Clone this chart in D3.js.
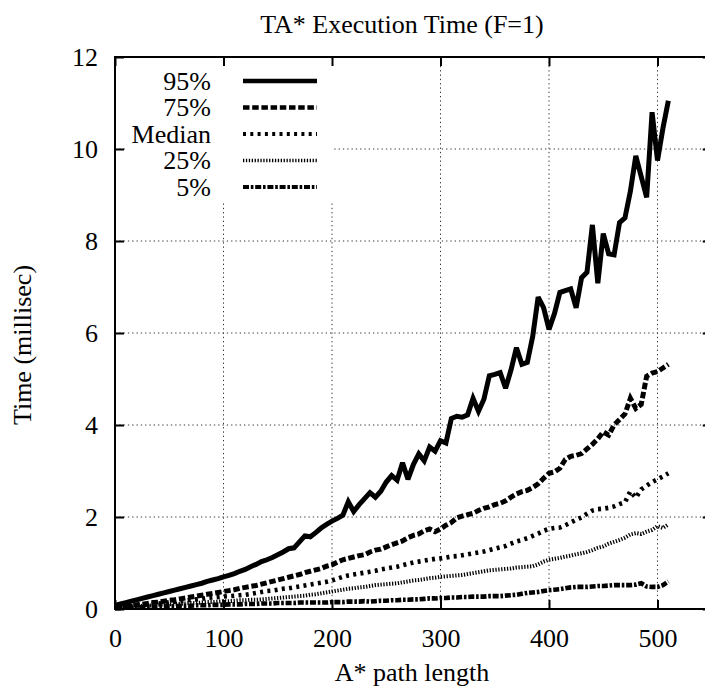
<!DOCTYPE html>
<html><head><meta charset="utf-8">
<script src="https://cdn.jsdelivr.net/npm/d3@7"></script>
<style>body{margin:0;background:#fff}svg{display:block}</style>
</head><body>
<script>
const pathLength = [0,5,10,15,20,25,30,35,40,45,50,55,60,65,70,75,80,85,90,95,100,105,110,115,120,125,130,135,140,145,150,155,160,165,170,175,180,185,190,195,200,205,210,215,220,225,230,235,240,245,250,255,260,265,270,275,280,285,290,295,300,305,310,315,320,325,330,335,340,345,350,355,360,365,370,375,380,385,390,395,400,405,410,415,420,425,430,435,440,445,450,455,460,465,470,475,480,485,490,495,500,505,510];
const p95 = [0.08,0.11,0.14,0.17,0.20,0.23,0.26,0.29,0.32,0.35,0.38,0.41,0.44,0.47,0.50,0.53,0.56,0.60,0.63,0.66,0.70,0.73,0.77,0.82,0.86,0.92,0.97,1.03,1.07,1.12,1.18,1.24,1.31,1.33,1.46,1.59,1.57,1.66,1.76,1.84,1.91,1.97,2.04,2.33,2.12,2.27,2.40,2.53,2.43,2.56,2.76,2.90,2.80,3.18,2.82,3.14,3.37,3.22,3.52,3.43,3.66,3.61,4.14,4.19,4.17,4.22,4.58,4.30,4.56,5.07,5.10,5.14,4.80,5.20,5.68,5.32,5.36,5.93,6.78,6.55,6.08,6.42,6.88,6.92,6.96,6.55,7.20,7.32,8.35,7.08,8.16,7.72,7.70,8.40,8.50,9.08,9.85,9.40,8.95,10.80,9.75,10.45,11.05];
const p75 = [0.05,0.06,0.07,0.08,0.09,0.10,0.12,0.14,0.15,0.17,0.19,0.20,0.22,0.24,0.26,0.28,0.30,0.32,0.34,0.36,0.38,0.40,0.42,0.45,0.47,0.49,0.51,0.54,0.57,0.60,0.63,0.66,0.69,0.72,0.75,0.79,0.82,0.85,0.88,0.93,0.96,1.02,1.07,1.10,1.13,1.16,1.18,1.24,1.28,1.30,1.35,1.40,1.44,1.48,1.55,1.60,1.63,1.70,1.74,1.68,1.74,1.82,1.88,1.98,2.02,2.05,2.08,2.14,2.19,2.22,2.27,2.30,2.35,2.43,2.50,2.55,2.58,2.64,2.72,2.84,2.95,2.98,3.06,3.25,3.32,3.34,3.38,3.48,3.58,3.70,3.85,3.78,4.00,4.12,4.24,4.58,4.36,4.45,5.06,5.13,5.16,5.24,5.32];
const p50 = [0.04,0.05,0.06,0.07,0.08,0.09,0.10,0.11,0.12,0.13,0.15,0.16,0.17,0.18,0.20,0.21,0.22,0.24,0.25,0.26,0.27,0.28,0.29,0.30,0.31,0.33,0.35,0.37,0.39,0.40,0.42,0.44,0.45,0.47,0.49,0.51,0.53,0.55,0.57,0.59,0.62,0.66,0.70,0.73,0.75,0.77,0.79,0.81,0.83,0.86,0.88,0.90,0.92,0.95,0.98,1.01,1.03,1.05,1.07,1.09,1.10,1.12,1.14,1.15,1.17,1.19,1.21,1.23,1.25,1.28,1.31,1.34,1.37,1.42,1.47,1.50,1.54,1.59,1.64,1.70,1.74,1.76,1.77,1.82,1.88,1.94,1.99,2.07,2.14,2.17,2.18,2.20,2.23,2.28,2.32,2.56,2.42,2.60,2.68,2.76,2.82,2.88,2.95];
const p25 = [0.03,0.04,0.05,0.05,0.06,0.07,0.07,0.08,0.09,0.09,0.10,0.11,0.11,0.12,0.13,0.13,0.14,0.15,0.15,0.16,0.17,0.17,0.18,0.19,0.19,0.20,0.20,0.21,0.22,0.23,0.24,0.25,0.26,0.27,0.28,0.29,0.31,0.32,0.34,0.36,0.38,0.40,0.42,0.44,0.45,0.47,0.48,0.50,0.52,0.53,0.54,0.55,0.56,0.58,0.60,0.62,0.63,0.65,0.67,0.68,0.70,0.71,0.72,0.73,0.74,0.76,0.78,0.80,0.82,0.84,0.85,0.86,0.87,0.88,0.90,0.91,0.92,0.93,0.97,1.03,1.07,1.09,1.11,1.14,1.16,1.19,1.21,1.24,1.28,1.33,1.36,1.42,1.46,1.50,1.55,1.62,1.65,1.63,1.68,1.72,1.80,1.76,1.84];
const p05 = [0.02,0.02,0.03,0.03,0.04,0.04,0.05,0.05,0.05,0.06,0.06,0.06,0.07,0.07,0.07,0.08,0.08,0.08,0.09,0.09,0.09,0.10,0.10,0.10,0.11,0.11,0.11,0.12,0.12,0.12,0.13,0.13,0.13,0.13,0.14,0.14,0.14,0.14,0.14,0.14,0.15,0.15,0.15,0.16,0.16,0.16,0.17,0.16,0.17,0.18,0.18,0.19,0.19,0.20,0.20,0.21,0.21,0.22,0.23,0.23,0.24,0.24,0.25,0.25,0.26,0.26,0.27,0.27,0.27,0.28,0.28,0.28,0.29,0.30,0.31,0.33,0.35,0.36,0.37,0.39,0.41,0.42,0.43,0.45,0.47,0.48,0.48,0.48,0.49,0.50,0.50,0.51,0.52,0.52,0.52,0.52,0.53,0.56,0.49,0.48,0.48,0.52,0.60];
const seriesNames = ["95%","75%","Median","25%","5%"];
const xTicks = [0,100,200,300,400,500];
const yTicks = [0,2,4,6,8,10,12];

const FONT="'Liberation Serif', 'Times New Roman', Times, 'DejaVu Serif', serif";
const W=705,H=689;
const svg=d3.select("body").append("svg").attr("width",W).attr("height",H)
  .attr("font-family",FONT).style("font-family",FONT);
const L=115,T=57,B=609;
const x=d3.scaleLinear().domain([0,550]).range([L,L+550*1.085]);
const y=d3.scaleLinear().domain([0,12]).range([B,T]);
const R=x(550);
const FS=26;

// grid
const grid=svg.append("g").attr("stroke","#333").attr("stroke-width",1).attr("stroke-dasharray","1.3,3");
grid.selectAll("line.gx").data(xTicks.filter(v=>v>0)).join("line").attr("x1",d=>x(d)).attr("x2",d=>x(d)).attr("y1",B).attr("y2",T);
grid.selectAll("line.gy").data(yTicks.filter(v=>v>0&&v<12)).join("line").attr("y1",d=>y(d)).attr("y2",d=>y(d)).attr("x1",L).attr("x2",R);

// key background
svg.append("rect").attr("x",126).attr("y",60).attr("width",207).attr("height",143).attr("fill","#fff");

// axes
const ax=svg.append("g").attr("transform",`translate(0,${B})`).call(d3.axisBottom(x).tickValues(xTicks).tickSize(-9).tickSizeOuter(0));
ax.selectAll("text").attr("y",38).attr("dy",null);
const at=svg.append("g").attr("transform",`translate(0,${T})`).call(d3.axisTop(x).tickValues(xTicks).tickSize(-9).tickSizeOuter(0).tickFormat(""));
const ay=svg.append("g").attr("transform",`translate(${L},0)`).call(d3.axisLeft(y).tickValues(yTicks).tickSize(-9).tickSizeOuter(0));
ay.selectAll("text").attr("x",-17).attr("dy","0.34em");
const ar=svg.append("g").attr("transform",`translate(${R},0)`).call(d3.axisRight(y).tickValues(yTicks).tickSize(-9).tickSizeOuter(0).tickFormat(""));
[ax,at,ay,ar].forEach(g=>{
  g.attr("font-family",FONT).attr("font-size",FS);
  g.select(".domain").remove();
  g.selectAll("line").attr("stroke","#000").attr("stroke-width",2);
  g.selectAll("text").attr("font-family",FONT).style("font-family",FONT).style("font-size",FS+"px").attr("fill","#000");
});
svg.append("rect").attr("x",L).attr("y",T).attr("width",R-L).attr("height",B-T).attr("fill","none").attr("stroke","#000").attr("stroke-width",2);

// series
const styles=[
 {w:5,dash:null},
 {w:5,dash:"6.5,2.7"},
 {w:4.6,dash:"3,4.3"},
 {w:4,dash:"1.3,1.6"},
 {w:4.6,dash:"6,1.8,2.6,1.8"}
];
const data=[p95,p75,p50,p25,p05];
const line=d3.line().x((d,i)=>x(pathLength[i])).y(d=>y(d));
data.forEach((s,k)=>{
  svg.append("path").datum(s).attr("d",line).attr("fill","none").attr("stroke","#000")
   .attr("stroke-width",styles[k].w).attr("stroke-dasharray",styles[k].dash).attr("stroke-linejoin","miter").attr("stroke-miterlimit",3);
});

function txt(xx,yy,s,anchor){
  return svg.append("text").attr("x",xx).attr("y",yy).attr("text-anchor",anchor||"middle")
    .attr("font-family",FONT).style("font-family",FONT).style("font-size",FS+"px").attr("fill","#000").text(s);
}
// key
seriesNames.forEach((n,k)=>{
  const yy=81+k*26.5;
  txt(211,yy,n,"end").attr("dy","0.34em");
  svg.append("line").attr("x1",243).attr("x2",317).attr("y1",yy).attr("y2",yy).attr("stroke","#000")
   .attr("stroke-width",styles[k].w-0.5).attr("stroke-dasharray",styles[k].dash);
});

// titles
txt(402,33,"TA* Execution Time (F=1)");
txt(412,681,"A* path length");
txt(0,0,"Time (millisec)").attr("transform",`translate(31,345) rotate(-90)`);
</script>
</body></html>
